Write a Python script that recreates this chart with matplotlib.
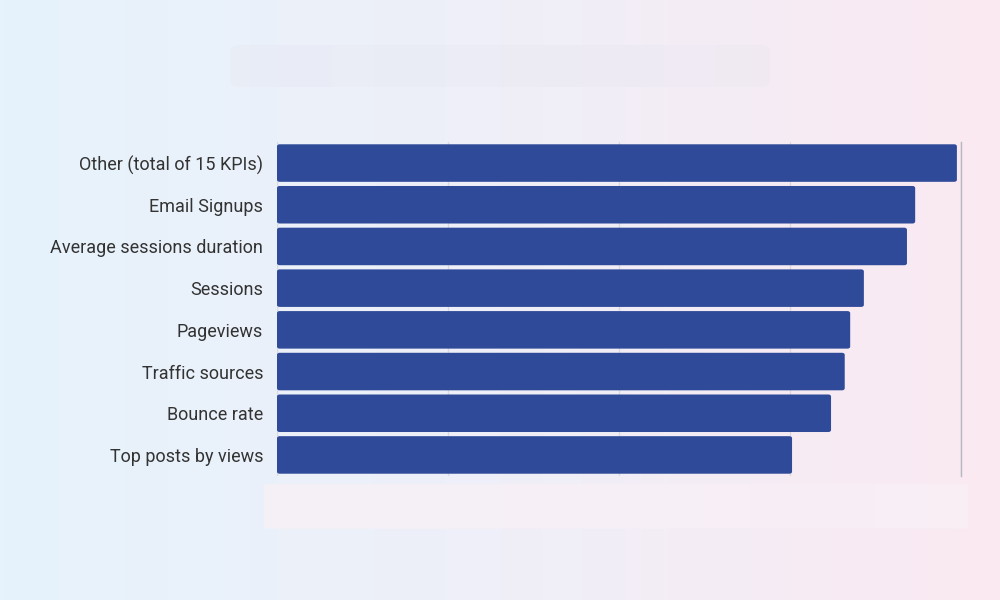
import numpy as np
import matplotlib.pyplot as plt
from matplotlib.colors import LinearSegmentedColormap
from matplotlib.patches import FancyBboxPatch

# Datos (escala 0-100, etiquetas del eje borrosas en la imagen)
categorias = ['Other (total of 15 KPIs)', 'Email Signups', 'Average sessions duration',
              'Sessions', 'Pageviews', 'Traffic sources', 'Bounce rate', 'Top posts by views']
valores = [99.4, 93.3, 92.1, 85.8, 83.8, 83.0, 81.0, 75.3]
ticks_x = [0, 25, 50, 75, 100]

plt.rcParams['font.family'] = ['Roboto', 'DejaVu Sans']

fig = plt.figure(figsize=(10, 6), dpi=100)

# Fondo degradado azul claro -> rosa claro
bg = fig.add_axes([0, 0, 1, 1], zorder=0)
grad = LinearSegmentedColormap.from_list('bg', ['#e6f3fc', '#efeff8', '#fbe9f1'])
bg.imshow(np.linspace(0, 1, 256)[None, :], aspect='auto', cmap=grad, extent=[0, 1, 0, 1])
# Zonas borrosas (título y eje inferior)
bg.add_patch(FancyBboxPatch((0.24, 0.865), 0.52, 0.05, boxstyle='round,pad=0.01',
                            fc='#e6e6f0', ec='none', alpha=0.3))
bg.add_patch(FancyBboxPatch((0.267, 0.122), 0.698, 0.068, boxstyle='round,pad=0.003',
                            fc='#f8f0f6', ec='none', alpha=0.8))
bg.set_xlim(0, 1)
bg.set_ylim(0, 1)
bg.axis('off')

ax = fig.add_axes([0.277, 0.207, 0.684, 0.556], zorder=1)
ax.patch.set_alpha(0)

y = np.arange(len(categorias))
ax.set_xlim(0, 100)
ax.set_ylim(len(categorias) - 0.5, -0.5)

for yi, v in zip(y, valores):
    ax.add_patch(FancyBboxPatch((0, yi - 0.45), v, 0.9,
                                boxstyle='round,pad=0,rounding_size=0.4',
                                mutation_aspect=0.12,
                                fc='#2e4a98', ec='none', zorder=3))

ax.set_xticks(ticks_x)
ax.set_xticklabels([])
ax.tick_params(axis='x', length=0)
ax.grid(axis='x', color='#d9d9e0', linewidth=1, zorder=1)
ax.set_yticks(y)
ax.set_yticklabels(categorias, fontsize=13, color='#333333')
ax.tick_params(axis='y', length=0, pad=10)

for s in ['top', 'bottom', 'left']:
    ax.spines[s].set_visible(False)
ax.spines['right'].set_color('#b8b8c0')
ax.spines['right'].set_linewidth(1)

plt.savefig('out.png', dpi=100)
